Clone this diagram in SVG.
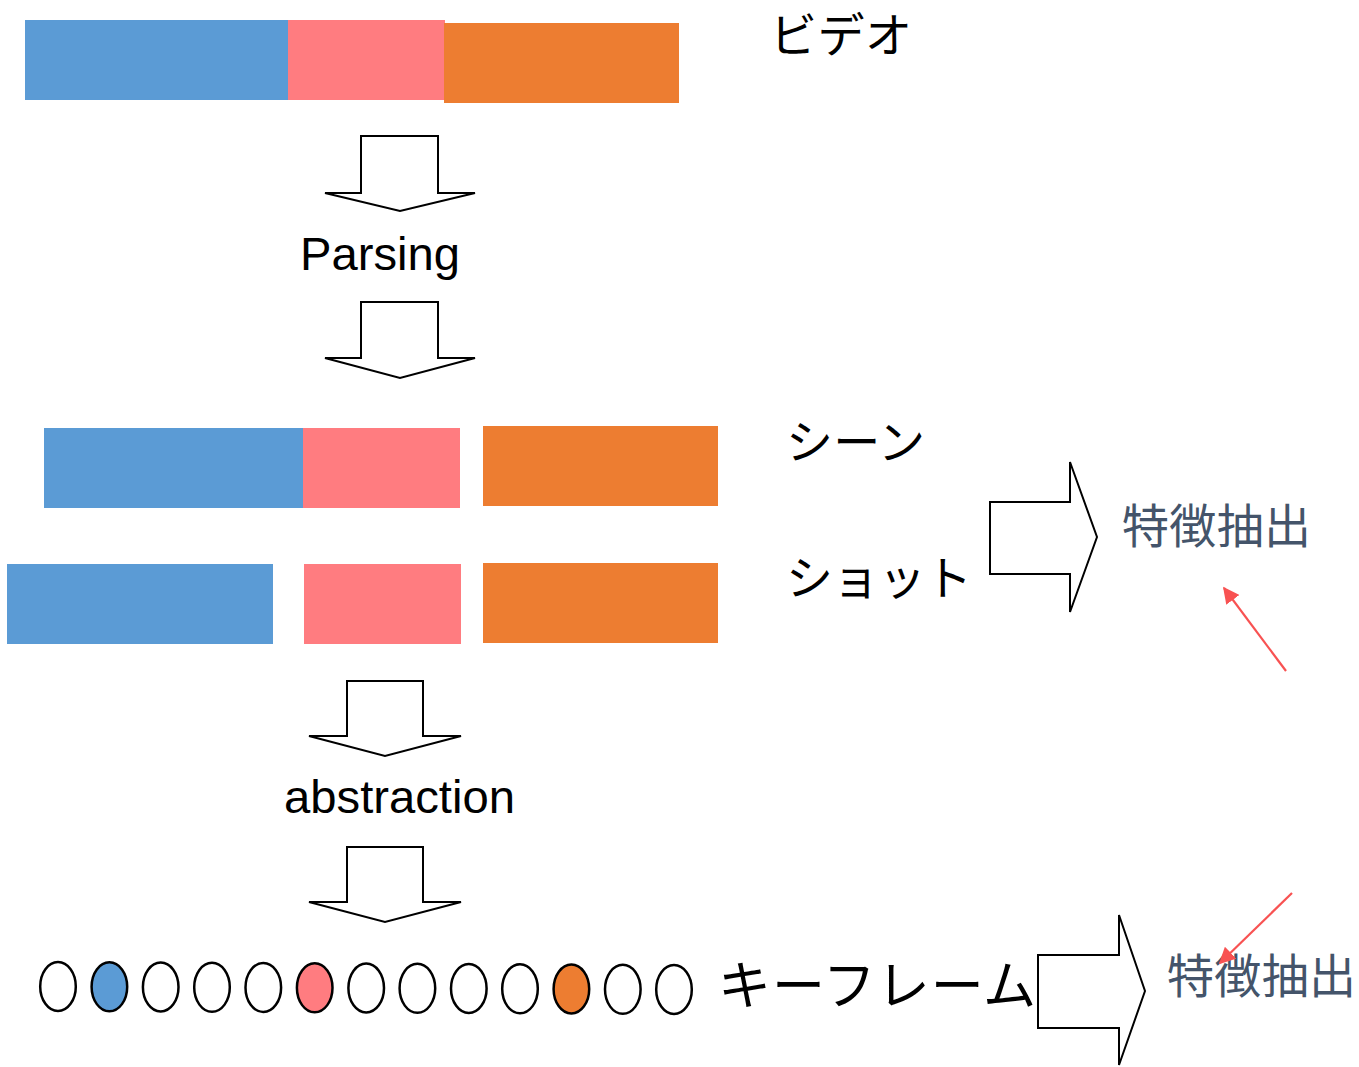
<svg xmlns="http://www.w3.org/2000/svg" width="1359" height="1067" viewBox="0 0 1359 1067">
<style>
.blue{fill:#5B9BD5}
.pink{fill:#FF7C80}
.orange{fill:#ED7D31}
.arrow{fill:#FFFFFF;stroke:#000000;stroke-width:2;stroke-linejoin:miter}
.frame{stroke:#000000;stroke-width:2.5}
.lat{font-family:"Liberation Sans",Arial,sans-serif;fill:#000000}
.jp{font-family:"Noto Sans CJK JP","Noto Sans",sans-serif;fill:#000000}
.feat{font-family:"Noto Sans CJK JP","Noto Sans",sans-serif;fill:#44546A;font-size:47px}
.red{stroke:#F85252;stroke-width:2.2;fill:none}
</style>
<defs>
<marker id="redhead" viewBox="0 0 10 10" refX="9" refY="5" markerWidth="7.5" markerHeight="7.5" markerUnits="strokeWidth" orient="auto">
<path d="M0,0 L10,5 L0,10 Z" fill="#F85252"/>
</marker>
</defs>
<rect width="1359" height="1067" fill="#FFFFFF"/>

<g id="video">
<rect class="blue" x="25" y="20" width="263" height="80"/>
<rect class="pink" x="288" y="20" width="157" height="80"/>
<rect class="orange" x="444" y="23" width="235" height="80"/>
<text class="jp" x="770" y="52" font-size="47" textLength="142" lengthAdjust="spacing">ビデオ</text>
</g>

<g id="parsing">
<text class="lat" x="300" y="270" font-size="47" textLength="160" lengthAdjust="spacingAndGlyphs">Parsing</text>
</g>

<g id="scene">
<rect class="blue" x="44" y="428" width="259" height="80"/>
<rect class="pink" x="303" y="428" width="157" height="80"/>
<rect class="orange" x="483" y="426" width="235" height="80"/>
<text class="jp" x="786" y="459" font-size="47" textLength="139" lengthAdjust="spacing">シーン</text>
</g>

<g id="shot">
<rect class="blue" x="7" y="564" width="266" height="80"/>
<rect class="pink" x="304" y="564" width="157" height="80"/>
<rect class="orange" x="483" y="563" width="235" height="80"/>
<text class="jp" x="786" y="595" font-size="47" textLength="186" lengthAdjust="spacing">ショット</text>
</g>

<g id="abstraction">
<text class="lat" x="284" y="813" font-size="47" textLength="231" lengthAdjust="spacingAndGlyphs">abstraction</text>
</g>

<g id="keyframes">
<ellipse class="frame" cx="58" cy="986.5" rx="17.8" ry="24.5" fill="#FFFFFF"/>
<ellipse class="frame" cx="109.4" cy="986.8" rx="17.8" ry="24.5" fill="#5B9BD5"/>
<ellipse class="frame" cx="160.7" cy="987" rx="17.8" ry="24.5" fill="#FFFFFF"/>
<ellipse class="frame" cx="212" cy="987.3" rx="17.8" ry="24.5" fill="#FFFFFF"/>
<ellipse class="frame" cx="263.3" cy="987.5" rx="17.8" ry="24.5" fill="#FFFFFF"/>
<ellipse class="frame" cx="314.7" cy="987.8" rx="17.8" ry="24.5" fill="#FF7C80"/>
<ellipse class="frame" cx="366.2" cy="988" rx="17.8" ry="24.5" fill="#FFFFFF"/>
<ellipse class="frame" cx="417.4" cy="988.3" rx="17.8" ry="24.5" fill="#FFFFFF"/>
<ellipse class="frame" cx="468.8" cy="988.5" rx="17.8" ry="24.5" fill="#FFFFFF"/>
<ellipse class="frame" cx="520" cy="988.8" rx="17.8" ry="24.5" fill="#FFFFFF"/>
<ellipse class="frame" cx="571.4" cy="989" rx="17.8" ry="24.5" fill="#ED7D31"/>
<ellipse class="frame" cx="622.8" cy="989.3" rx="17.8" ry="24.5" fill="#FFFFFF"/>
<ellipse class="frame" cx="674" cy="989.5" rx="17.8" ry="24.5" fill="#FFFFFF"/>
<text class="jp" x="718" y="1005" font-size="53" textLength="318" lengthAdjust="spacing">キーフレーム</text>
</g>

<g id="feature1">
<text class="feat" x="1122" y="543" textLength="189" lengthAdjust="spacing">特徴抽出</text>
</g>

<g id="feature2">
<text class="feat" x="1167" y="993" textLength="189" lengthAdjust="spacing">特徴抽出</text>
</g>

<g id="connectors">
<polygon class="arrow" points="361,136 438,136 438,193 475,193 400,211 325,193 361,193"/>
<polygon class="arrow" points="361,302 438,302 438,358 475,358 400,378 325,358 361,358"/>
<polygon class="arrow" points="347,681 423,681 423,736 461,736 385,756 309,736 347,736"/>
<polygon class="arrow" points="347,847 423,847 423,902 461,902 385,922 309,902 347,902"/>
<polygon class="arrow" points="990,502 1070,502 1070,462 1097,537 1070,612 1070,574 990,574"/>
<polygon class="arrow" points="1038,955 1119,955 1119,915 1145,991 1119,1065 1119,1028 1038,1028"/>
<line class="red" x1="1286" y1="671" x2="1224" y2="588" marker-end="url(#redhead)"/>
<line class="red" x1="1292" y1="893" x2="1220" y2="963" marker-end="url(#redhead)"/>
</g>
</svg>
